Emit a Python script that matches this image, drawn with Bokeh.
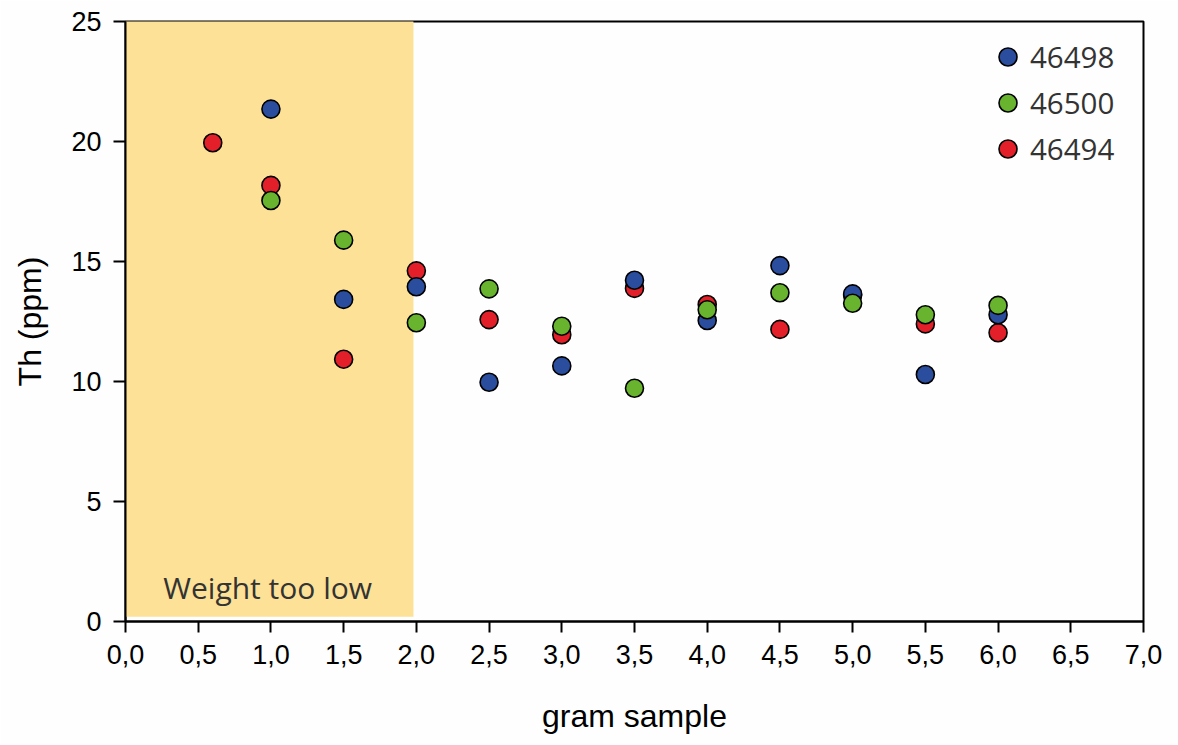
from bokeh.plotting import figure
from bokeh.models import (BoxAnnotation, FixedTicker, Legend, LegendItem,
                          Range1d, Label)
from bokeh.embed import file_html
from bokeh.resources import INLINE

# Sample mass (g) against thorium content (ppm) for three samples
x_46498 = [1.0, 1.5, 2.0, 2.5, 3.0, 3.5, 4.0, 4.5, 5.0, 5.5, 6.0]
th_46498 = [21.35, 13.42, 13.95, 9.97, 10.65, 14.22, 12.54, 14.83, 13.65, 10.29, 12.78]

x_46500 = [1.0, 1.5, 2.0, 2.5, 3.0, 3.5, 4.0, 4.5, 5.0, 5.5, 6.0]
th_46500 = [17.54, 15.89, 12.45, 13.86, 12.30, 9.72, 12.99, 13.70, 13.26, 12.78, 13.17]

x_46494 = [0.6, 1.0, 1.5, 2.0, 2.5, 3.0, 3.5, 4.0, 4.5, 5.0, 5.5, 6.0]
th_46494 = [19.95, 18.17, 10.93, 14.61, 12.58, 11.95, 13.88, 13.21, 12.17, 13.60, 12.40, 12.03]

x_ticks = [0.0, 0.5, 1.0, 1.5, 2.0, 2.5, 3.0, 3.5, 4.0, 4.5, 5.0, 5.5, 6.0, 6.5, 7.0]
x_tick_labels = ["0,0", "0,5", "1,0", "1,5", "2,0", "2,5", "3,0", "3,5",
                 "4,0", "4,5", "5,0", "5,5", "6,0", "6,5", "7,0"]
y_ticks = [0, 5, 10, 15, 20, 25]

low_weight_limit = 1.98

BLUE = "#2b4d9e"
GREEN = "#69b42e"
RED = "#e3202a"
BAND = "#fde196"

p = figure(width=1178, height=745, output_backend="svg", toolbar_location=None,
           x_range=Range1d(0, 7), y_range=Range1d(0, 25),
           min_border_left=125, min_border_right=35,
           min_border_top=21, min_border_bottom=124)
p.frame_width = 1018
p.frame_height = 600
p.background_fill_color = "#fefefe"
p.border_fill_color = "#fefefe"
p.xgrid.visible = False
p.ygrid.visible = False
p.outline_line_color = "black"
p.outline_line_width = 2

# Shaded region: samples below the usable mass
p.add_layout(BoxAnnotation(left=-0.02, right=low_weight_limit, bottom=0.2, top=25.2,
                           fill_color=BAND, fill_alpha=1.0, line_alpha=0,
                           level="underlay"))
p.add_layout(Label(x=0.26, y=1.4, text="Weight too low", text_font="Open Sans",
                   text_font_size="30px", text_color="#333333",
                   text_baseline="middle"))

common = dict(size=18, line_color="black", line_width=1.6)
r_red = p.scatter(x_46494, th_46494, fill_color=RED, **common)
r_blue = p.scatter(x_46498, th_46498, fill_color=BLUE, **common)
r_green = p.scatter(x_46500, th_46500, fill_color=GREEN, **common)

# Axes
for ax in (p.xaxis[0], p.yaxis[0]):
    ax.axis_line_width = 2
    ax.axis_line_color = "black"
    ax.major_tick_line_width = 2
    ax.major_tick_line_color = "black"
    ax.major_tick_in = 0
    ax.major_tick_out = 12
    ax.minor_tick_line_color = None
    ax.major_label_text_font = "Liberation Sans"
    ax.major_label_text_font_size = "27px"
    ax.major_label_text_color = "black"
    ax.axis_label_text_font = "Liberation Sans"
    ax.axis_label_text_font_size = "32px"
    ax.axis_label_text_font_style = "normal"
    ax.axis_label_text_color = "black"

p.xaxis.ticker = FixedTicker(ticks=x_ticks)
p.xaxis.major_label_overrides = dict(zip(x_ticks, x_tick_labels))
p.xaxis.major_tick_out = 11
p.xaxis.major_label_standoff = 12
p.xaxis.axis_label = "gram sample"
p.xaxis.axis_label_standoff = 31

p.yaxis.ticker = FixedTicker(ticks=y_ticks)
p.yaxis.major_label_standoff = 12
p.yaxis.axis_label = "Th (ppm)"
p.yaxis.axis_label_standoff = 20

legend = Legend(items=[LegendItem(label="46498", renderers=[r_blue]),
                       LegendItem(label="46500", renderers=[r_green]),
                       LegendItem(label="46494", renderers=[r_red])],
                location=(860, 450))
legend.label_text_font = "Open Sans"
legend.label_text_font_size = "29.5px"
legend.label_text_color = "#333333"
legend.border_line_color = None
legend.background_fill_alpha = 0
legend.glyph_width = 45
legend.glyph_height = 45
legend.label_height = 45
legend.spacing = 1
legend.label_standoff = 0
legend.margin = 0
legend.padding = 0
p.add_layout(legend)

open("out.html", "w").write(file_html(p, INLINE))
